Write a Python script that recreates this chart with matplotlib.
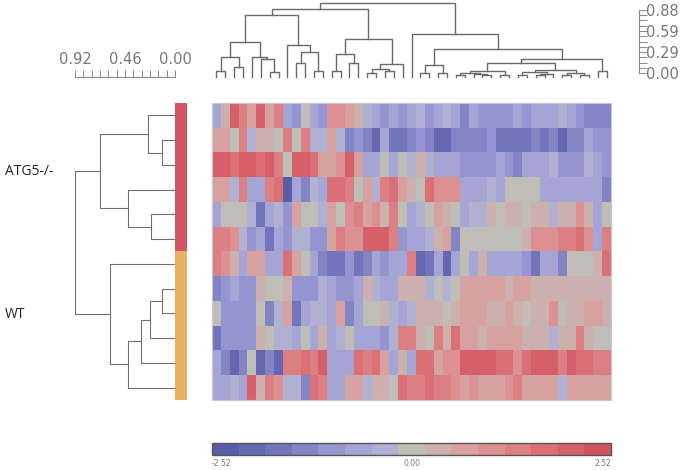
import numpy as np
import matplotlib
matplotlib.use('Agg')
import matplotlib.pyplot as plt
from matplotlib.colors import LinearSegmentedColormap, ListedColormap
from matplotlib.transforms import blended_transform_factory

W, H = 684, 470

# expression z-scores, one list per sample row (45 genes, in dendrogram order)
atg5_r1 = [-0.8, 0.5, 2.0, 1.5, 0.8, 2.0, 0.7, 1.5, -0.8, -1.1, 0.0,
           -0.7, -1.1, 1.1, 1.0, 0.7, 0.3, -0.3, -0.7, -1.0, -0.7,
           -1.0, -0.7, -0.4, -1.1, -0.7, -0.4, -0.8, -1.4, -0.7, -1.0, -1.0, -1.0, -1.0,
           -0.8, -1.0, -0.8, -0.8, -0.8, -0.5, -0.7, -1.0, -1.4, -1.4, -1.3]
atg5_r2 = [0.7, 0.7, 0.1, 1.4, -0.4, 0.4, 0.4, 0.1, 1.4, 0.0, 1.3,
           -0.4, -0.4, 0.6, -0.5, -1.2, -1.0, -1.3, -2.0, -0.7, -1.6,
           -1.6, -1.3, -1.1, -1.3, -2.0, -1.9, -1.4, -1.3, -1.3, -1.3, -1.0, -1.8, -1.6,
           -1.6, -1.6, -1.4, -1.7, -1.4, -1.9, -1.4, -1.4, -0.8, -1.1, -1.1]
atg5_r3 = [2.0, 2.0, 1.7, 1.9, 1.9, 1.6, 2.0, 1.5, 0.0, 2.0, 2.0,
           1.8, 0.8, 0.8, 1.0, 2.0, 0.6, -0.6, -0.6, 0.0, -0.8,
           -0.1, -0.3, 0.3, -0.3, -0.7, -0.7, -0.8, -1.0, -1.0, -1.0, -1.0, -0.8, -1.0,
           -1.3, -0.8, -0.8, -0.6, -0.3, -1.0, -1.0, -1.0, -0.5, -0.6, -1.0]
atg5_r4 = [0.6, 0.8, -0.4, 1.2, -0.7, -0.7, 1.5, 1.8, -2.2, -0.6, -1.3,
           -0.3, -0.6, 1.8, 1.8, 1.2, 0.1, 0.6, -0.4, 1.5, 1.6,
           0.6, 0.5, 0.0, 1.7, 1.0, 1.1, 1.1, -0.6, -0.6, -0.8, -0.3, -0.7, 0.0,
           0.0, 0.0, 0.0, -0.8, -0.7, -0.7, -0.8, -0.8, -0.8, -0.8, -1.2]
atg5_r5 = [-0.7, 0.0, 0.0, 0.0, -0.5, -1.6, -0.6, -0.3, -0.9, 0.6, 0.1,
           0.0, -0.2, 0.8, 0.1, 0.9, 1.3, 0.8, 1.0, 0.2, 1.5,
           0.0, -0.6, -0.4, 0.0, 0.6, 0.4, 0.1, -0.6, -0.4, -0.3, 0.3, 0.0, 0.4,
           0.3, 0.0, 0.4, 0.5, -0.4, 0.5, 0.4, 1.0, 0.3, -0.7, 0.0]
atg5_r6 = [1.4, 1.4, 1.0, -0.5, -0.9, -0.7, -1.7, -0.6, -0.9, -0.3, -0.4,
           -1.0, -1.1, 0.7, 1.3, 1.0, 1.0, 2.0, 2.0, 1.9, 1.4,
           -1.1, -0.6, -0.6, -0.4, 0.5, 0.6, -1.3, 0.0, 0.0, 0.0, 0.0, 0.0, 0.0,
           0.0, 0.3, 1.0, 1.0, 1.0, 1.3, 1.4, 1.7, 0.9, -0.7, 1.2]
wt_r1 = [1.4, 1.0, 0.5, -0.6, 0.7, 0.6, -0.7, -0.6, 1.8, 0.8, 0.0,
         -0.6, -1.3, -1.6, -1.8, -1.1, -1.8, -1.5, -0.7, -0.9, -0.7,
         -0.7, 1.4, -1.9, -1.6, -0.7, -1.9, -0.6, 0.0, -0.8, 0.3, -0.8, -0.8, -0.7,
         -0.7, -1.0, -1.8, -0.8, -0.7, -1.3, -0.1, 0.0, -0.1, 0.3, 1.7]
wt_r2 = [-1.2, -1.0, -0.8, -0.9, -0.9, 0.4, 0.0, 0.0, 0.4, -1.1, -1.1,
         -1.1, -0.4, -0.8, -0.9, -1.1, -0.7, 0.3, -0.4, -0.7, -0.8,
         0.3, 0.3, 0.4, -0.4, 0.0, -0.3, 0.0, 0.7, 0.7, 0.7, 0.6, 0.6, 0.5,
         0.6, 0.8, 0.4, 0.4, 0.2, 0.4, 0.5, 0.5, 0.4, 0.5, 0.2]
wt_r3 = [0.0, -1.0, -1.0, -0.9, -0.9, 0.0, -1.3, -0.4, 0.6, -1.6, -0.6,
         -0.4, -0.4, -0.7, 0.6, -1.4, -0.7, 0.0, 0.0, 0.5, -0.3,
         -0.6, -0.4, 0.4, 0.4, 0.4, 0.0, 0.5, 0.7, 0.7, 0.7, 0.5, 0.4, 0.6,
         0.3, 0.1, 0.5, 0.4, 0.9, 0.1, 0.4, 0.5, 0.6, 0.6, 0.5]
wt_r4 = [-1.6, -0.9, -0.9, -0.9, -0.9, 0.4, 0.0, -0.3, -0.2, -0.6, 0.0,
         -0.8, 0.3, -0.7, -0.4, 0.0, -0.8, -0.8, -0.7, -1.1, -0.3,
         1.4, 1.3, 0.5, 0.1, 1.3, 0.5, 1.6, 0.7, 0.7, 0.4, 0.8, 0.8, 0.8,
         0.8, 0.2, 0.5, 0.4, -0.3, 0.4, 0.4, 1.4, 0.2, 0.1, 0.0]
wt_r5 = [-0.7, -1.5, -1.9, -1.2, 0.0, -2.0, -1.3, -2.0, 1.4, 1.2, 1.6,
         1.5, 2.0, -0.8, -0.6, -0.8, 1.6, 1.5, 1.7, 0.8, -0.6,
         0.4, -0.8, 1.8, 1.8, 0.7, 0.9, 1.0, 2.0, 2.0, 2.1, 2.1, 1.6, 1.7,
         1.0, 1.8, 1.9, 1.9, 1.9, 1.5, 1.9, 1.6, 1.7, 1.4, 1.2]
wt_r6 = [-0.6, -0.6, -0.4, -0.6, 1.9, 0.4, 1.4, 1.1, -0.3, -0.3, -1.2,
         1.8, 1.2, -0.6, -0.6, 0.6, 0.7, -0.4, 0.3, 0.4, 0.1,
         1.6, 1.5, 1.2, 1.6, 1.5, 1.2, 1.1, 0.8, 0.9, 0.6, 0.8, 0.6, 1.0,
         1.3, 0.6, 0.6, 0.7, 0.6, -0.4, 0.6, 0.7, 0.7, 0.6, 0.6]

row_groups = ['ATG5-/-'] * 6 + ['WT'] * 6
group_names = ['ATG5-/-', 'WT']
group_colors = ['#d4555f', '#e9b062']

# dendrograms: (merge height, left, right), ints are leaf indices
col_tree = (0.92,
            (0.85,
             (0.77,
              (0.43,
               (0.25, (0.07, 0, 1), (0.125, 2, 3)),
               (0.25, 4, (0.23, 5, (0.06, 6, 7)))),
              (0.40, 8, (0.31, (0.17, 9, 10), (0.08, 11, 12)))),
             (0.47,
              (0.29, (0.08, 13, 14), (0.17, 15, 16)),
              (0.16, (0.105, (0.05, 17, 18), (0.07, 19, 20)), 21))),
            (0.54, 22,
             (0.35,
              (0.15, (0.05, 23, 24), (0.05, 25, 26)),
              (0.23,
               (0.17,
                (0.08,
                 (0.05, (0.02, 27, 28), (0.04, 29, (0.02, 30, 31))),
                 (0.02, 32, 33)),
                (0.09,
                 (0.06, (0.03, 34, 35), (0.04, (0.02, 36, 37), 38)),
                 (0.05, (0.03, 39, 40), (0.02, 41, 42)))),
               (0.08, 43, 44)))))
row_tree = (0.92,
            (0.69, (0.245, 0, (0.117, 1, 2)), (0.43, 3, (0.22, 4, 5))),
            (0.60, 6, (0.43, (0.31, (0.23, (0.117, 7, 8), 9), 10), 11)))

vmin, vmax = -2.52, 2.52
cbar_ticks = [-2.52, 0.0, 2.52]
col_scale_ticks = [0.00, 0.29, 0.59, 0.88]
row_scale_ticks = [0.92, 0.46, 0.00]

cmap = LinearSegmentedColormap.from_list('bgr', [
    (0.00, (88/255, 92/255, 168/255)),
    (0.17, (120/255, 122/255, 190/255)),
    (0.33, (160/255, 160/255, 215/255)),
    (0.45, (180/255, 180/255, 208/255)),
    (0.50, (190/255, 189/255, 182/255)),
    (0.60, (210/255, 172/255, 170/255)),
    (0.70, (222/255, 148/255, 148/255)),
    (0.84, (220/255, 115/255, 120/255)),
    (1.00, (210/255, 82/255, 94/255))], N=15)


def box(x0, y0, x1, y1):
  # pixel box (top-left origin) to figure fraction
  return [x0 / W, 1 - y1 / H, (x1 - x0) / W, (y1 - y0) / H]


def draw_tree(ax, node, side, color, lw):
  # draws U shaped links, returns (position, height) of the node
  if isinstance(node, int):
    return node + 0.5, 0.0
  h, a, b = node
  pa, ha = draw_tree(ax, a, side, color, lw)
  pb, hb = draw_tree(ax, b, side, color, lw)
  if side == 'top':
    ax.plot([pa, pa, pb, pb], [ha, h, h, hb], color=color, lw=lw, clip_on=False)
  else:
    ax.plot([ha, h, h, hb], [pa, pa, pb, pb], color=color, lw=lw, clip_on=False)
  return (pa + pb) / 2, h


def main():
  data = np.array([atg5_r1, atg5_r2, atg5_r3, atg5_r4, atg5_r5, atg5_r6,
                   wt_r1, wt_r2, wt_r3, wt_r4, wt_r5, wt_r6])
  nrow, ncol = data.shape
  fig = plt.figure(figsize=(W / 100, H / 100), dpi=100)
  fig.patch.set_facecolor('white')

  # heatmap
  ax = fig.add_axes(box(212, 103, 611, 400))
  ax.imshow(data, cmap=cmap, vmin=vmin, vmax=vmax, aspect='auto',
            interpolation='nearest', extent=(0, ncol, nrow, 0))
  ax.set_xticks([])
  ax.set_yticks([])
  for s in ax.spines.values():
    s.set_color('#c4c4e0')
    s.set_linewidth(0.8)

  # top dendrogram
  axt = fig.add_axes(box(212, 3, 611, 77))
  draw_tree(axt, col_tree, 'top', '#6a6a6a', 1.0)
  axt.set_xlim(0, ncol)
  axt.set_ylim(0, col_tree[0])
  axt.axis('off')

  # left dendrogram
  axl = fig.add_axes(box(75, 103, 175, 400))
  draw_tree(axl, row_tree, 'left', '#707070', 0.8)
  axl.set_xlim(row_tree[0], 0)
  axl.set_ylim(nrow, 0)
  axl.axis('off')

  # group labels at the height of each group node
  tr = blended_transform_factory(fig.transFigure, axl.transData)
  for name, sub in zip(group_names, row_tree[1:]):
    pos = draw_pos(sub)
    axl.text(5 / W, pos, name, transform=tr, ha='left', va='center',
             fontsize=10, family='Open Sans', color='#222222')

  # group colour bar
  axg = fig.add_axes(box(175, 103, 187, 400))
  codes = np.array([group_names.index(g) for g in row_groups])[:, None]
  axg.imshow(codes, cmap=ListedColormap(group_colors), aspect='auto',
             interpolation='nearest', vmin=0, vmax=1)
  axg.axis('off')

  # scale for the column dendrogram
  axs = fig.add_axes(box(639, 10, 645, 73))
  axs.set_ylim(0, 0.88)
  axs.set_xticks([])
  for k in ['top', 'right', 'bottom']:
    axs.spines[k].set_visible(False)
  axs.spines['left'].set_color('#888888')
  axs.set_yticks(col_scale_ticks)
  axs.set_yticklabels(['%.2f' % t for t in col_scale_ticks])
  axs.set_yticks(np.linspace(0, 0.88, 13), minor=True)
  axs.tick_params(axis='y', which='both', direction='in', length=6, width=0.7,
                  color='#888888', left=True, right=False,
                  labelleft=False, labelright=True, pad=1,
                  labelsize=10.5, labelcolor='#777777')
  axs.patch.set_alpha(0)

  # scale for the row dendrogram
  axr = fig.add_axes(box(75, 71, 175, 77))
  axr.set_xlim(row_tree[0], 0)
  axr.set_yticks([])
  for k in ['top', 'right', 'left']:
    axr.spines[k].set_visible(False)
  axr.spines['bottom'].set_color('#888888')
  axr.set_xticks(row_scale_ticks)
  axr.set_xticklabels(['%.2f' % t for t in row_scale_ticks])
  axr.set_xticks(np.linspace(0, 0.92, 13), minor=True)
  axr.tick_params(axis='x', which='both', direction='in', length=5, width=0.7,
                  color='#888888', bottom=True, top=False,
                  labelbottom=False, labeltop=True, pad=3,
                  labelsize=10.5, labelcolor='#777777')
  axr.patch.set_alpha(0)

  # colour scale
  cax = fig.add_axes(box(212, 443, 611, 455))
  sm = plt.cm.ScalarMappable(cmap=cmap, norm=plt.Normalize(vmin, vmax))
  cb = fig.colorbar(sm, cax=cax, orientation='horizontal')
  cb.outline.set_edgecolor('#555555')
  cb.outline.set_linewidth(1.0)
  cax.set_xticks([])
  ctr = blended_transform_factory(cax.transData, cax.transAxes)
  for t, ha in zip(cbar_ticks, ['left', 'center', 'right']):
    cax.text(t, -0.35, '%.2f' % t, transform=ctr, ha=ha, va='top',
             fontsize=5.5, color='#777777')

  fig.savefig('out.png', dpi=100)


def draw_pos(node):
  # leaf-order position of a node, same rule as draw_tree
  if isinstance(node, int):
    return node + 0.5
  return (draw_pos(node[1]) + draw_pos(node[2])) / 2


if __name__ == '__main__':
  main()
